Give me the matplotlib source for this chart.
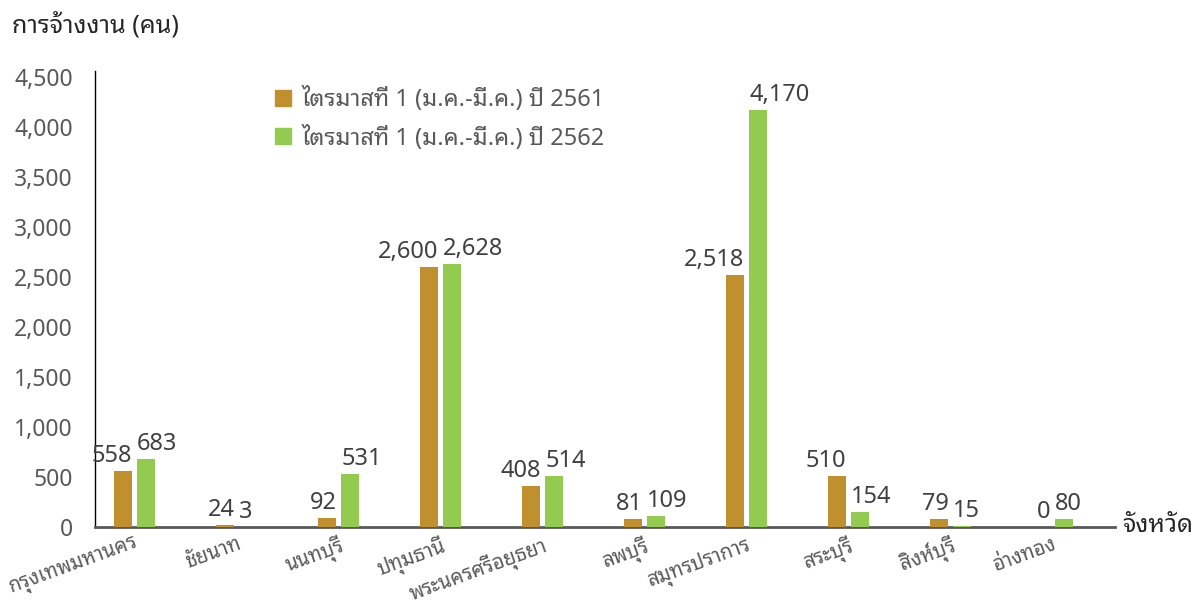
import matplotlib
matplotlib.use('Agg')
import matplotlib.pyplot as plt
import numpy as np
from matplotlib.lines import Line2D
from matplotlib.ticker import FuncFormatter

plt.rcParams['font.family'] = ['Noto Sans', 'Noto Sans Thai Looped', 'DejaVu Sans']

provinces = ['กรุงเทพมหานคร', 'ชัยนาท', 'นนทบุรี', 'ปทุมธานี', 'พระนครศรีอยุธยา',
             'ลพบุรี', 'สมุทรปราการ', 'สระบุรี', 'สิงห์บุรี', 'อ่างทอง']
q1_2561 = [558, 24, 92, 2600, 408, 81, 2518, 510, 79, 0]
q1_2562 = [683, 3, 531, 2628, 514, 109, 4170, 154, 15, 80]
series_names = ['ไตรมาสที่ 1 (ม.ค.-มี.ค.) ปี 2561', 'ไตรมาสที่ 1 (ม.ค.-มี.ค.) ปี 2562']
colors = ['#C08F2E', '#92CB4F']
grey = '#595959'

fig = plt.figure(figsize=(12.01, 6.08), dpi=100)
ax = fig.add_axes([0.0791, 0.1332, 0.8493, 0.75])

x = np.arange(len(provinces))
w = 0.18
off = 0.113
b1 = ax.bar(x - off, q1_2561, w, color=colors[0], zorder=3)
b2 = ax.bar(x + off, q1_2562, w, color=colors[1], zorder=3)

# labels pushed apart: left series right-aligned, right series left-aligned
for rect, v in zip(b1, q1_2561):
    ax.annotate(f'{v:,}', (rect.get_x() + rect.get_width(), v), xytext=(0, 2),
                textcoords='offset points', ha='right', va='bottom', fontsize=17, color='#404040')
for rect, v in zip(b2, q1_2562):
    ax.annotate(f'{v:,}', (rect.get_x(), v), xytext=(0, 2),
                textcoords='offset points', ha='left', va='bottom', fontsize=17, color='#404040')

ax.set_xlim(-0.39, 9.61)
ax.set_ylim(0, 4560)
ax.set_yticks(np.arange(0, 4501, 500))
ax.yaxis.set_major_formatter(FuncFormatter(lambda v, p: f'{int(v):,}'))
ax.set_xticks(x)
ax.set_xticklabels(provinces, rotation=20, ha='right', rotation_mode='anchor')
ax.tick_params(axis='both', length=0, colors=grey)
ax.tick_params(axis='y', pad=16, labelsize=16.5)
ax.tick_params(axis='x', pad=5, labelsize=14.5)

for s in ['top', 'right']:
    ax.spines[s].set_visible(False)
ax.spines['left'].set_color('black')
ax.spines['left'].set_linewidth(1)
ax.spines['bottom'].set_color(grey)
ax.spines['bottom'].set_linewidth(2)

handles = [Line2D([], [], marker='s', linestyle='none', markersize=11, color=c) for c in colors]
leg = ax.legend(handles, series_names, loc='upper left', bbox_to_anchor=(0.163, 0.985),
                frameon=False, fontsize=17, handletextpad=0.3, labelspacing=0.55,
                borderaxespad=0, handlelength=1.0)
for t in leg.get_texts():
    t.set_color(grey)

fig.text(12 / 1201, 1 - 25 / 608, 'การจ้างงาน (คน)', fontsize=18, fontweight='bold',
         color='#262626', ha='left', va='center')
fig.text(1122 / 1201, 1 - 525 / 608, 'จังหวัด', fontsize=18, fontweight='bold',
         color='#262626', ha='left', va='center')

fig.savefig('out.png', dpi=100)
